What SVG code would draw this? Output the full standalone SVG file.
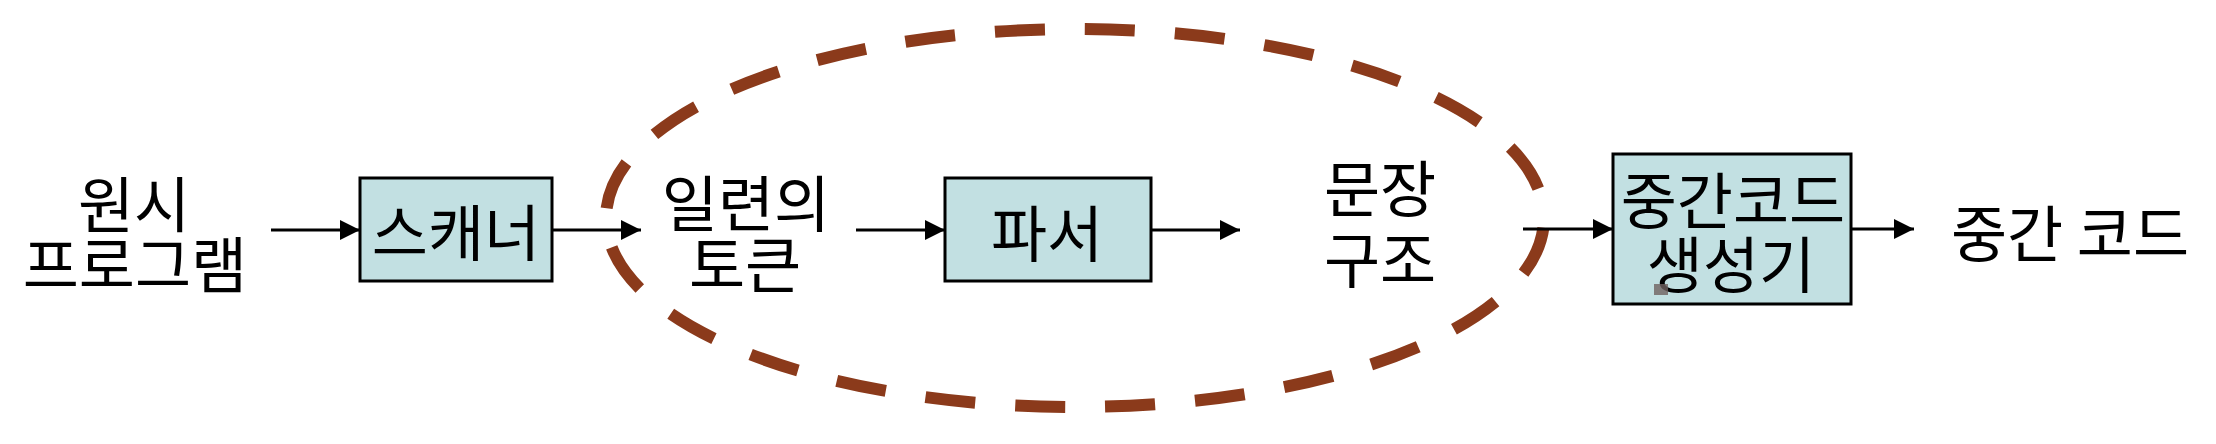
<svg xmlns="http://www.w3.org/2000/svg" width="2216" height="444" viewBox="0 0 2216 444">
<defs>
<marker id="arr" markerWidth="20" markerHeight="20" refX="20" refY="10" orient="auto" markerUnits="userSpaceOnUse">
<path d="M0,0 L20,10 L0,20 Z" fill="#000"/>
</marker>
<style>
.t{font-family:"Noto Sans CJK KR","Noto Sans",sans-serif;font-size:61px;fill:#000;text-anchor:middle}
.box{fill:#C2E0E2;stroke:#000;stroke-width:3}
.c{stroke:#000;stroke-width:3;fill:none;marker-end:url(#arr)}
</style>
</defs>
<rect width="2216" height="444" fill="#fff"/>
<g id="loop">
<ellipse cx="1075" cy="218" rx="469" ry="189" fill="none" stroke="#8B3A1B" stroke-width="12" pathLength="2400" stroke-dasharray="55.5 44.5" stroke-dashoffset="89"/>
</g>
<g id="source">
<text class="t" x="134" y="228">원시</text>
<text class="t" x="135" y="288">프로그램</text>
</g>
<g id="scanner">
<rect class="box" x="360" y="178" width="192" height="103"/>
<text class="t" x="456" y="256">스캐너</text>
</g>
<g id="tokens">
<text class="t" x="746" y="227">일련의</text>
<text class="t" x="745" y="288">토큰</text>
</g>
<g id="parser">
<rect class="box" x="945" y="178" width="206" height="103"/>
<text class="t" x="1047" y="257">파서</text>
</g>
<g id="syntax">
<text class="t" x="1380" y="212">문장</text>
<text class="t" x="1380" y="283">구조</text>
</g>
<g id="icg">
<rect class="box" x="1613" y="154" width="238" height="150"/>
<text class="t" x="1733" y="224">중간코드</text>
<text class="t" x="1731" y="288">생성기</text>
<rect x="1654" y="284" width="14" height="11" fill="#6f6260" opacity="0.8"/>
</g>
<g id="output">
<text class="t" x="2070" y="257">중간 코드</text>
</g>
<g id="connectors">
<line class="c" x1="271" y1="230" x2="360" y2="230"/>
<line class="c" x1="552" y1="230" x2="641" y2="230"/>
<line class="c" x1="856" y1="230" x2="945" y2="230"/>
<line class="c" x1="1151" y1="230" x2="1240" y2="230"/>
<line class="c" x1="1523" y1="229" x2="1613" y2="229"/>
<line class="c" x1="1851" y1="229" x2="1914" y2="229"/>
</g>
</svg>
